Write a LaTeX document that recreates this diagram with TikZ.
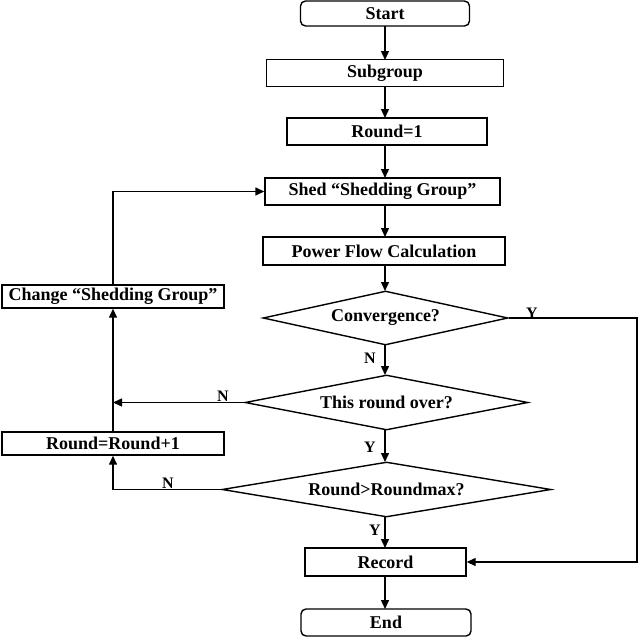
\documentclass[tikz,border=0pt]{standalone}
\usepackage{fontspec}
\setmainfont{Liberation Serif}
\usetikzlibrary{shapes.geometric,arrows.meta}
\begin{document}
\begin{tikzpicture}[x=1pt,y=-1pt,
  every node/.style={font=\fontsize{18}{21}\selectfont\bfseries},
  box/.style={draw,line width=1.4pt,inner sep=0pt,minimum height=#1},
  box/.default=27pt,
  term/.style={box,rounded corners=5pt},
  dec/.style={draw,diamond,line width=1.4pt,inner sep=0pt},
  arr/.style={line width=1.4pt,-{Triangle[length=9pt,width=8pt]}},
  ln/.style={line width=1.4pt},
  lbl/.style={font=\fontsize{16}{19}\selectfont\bfseries}]
\path[use as bounding box,fill=white] (0,0) rectangle (640,640);
\node[term,minimum width=169pt,minimum height=25pt] (start) at (385,13.5) {Start};
\node[box,minimum width=237pt] (sub) at (385,73) {Subgroup};
\node[box,minimum width=200pt] (r1) at (387,131.5) {Round=1};
\node[box,minimum width=235pt] (shed) at (382.5,191.5) {Shed “Shedding Group”};
\node[box=28pt,minimum width=242pt] (pf) at (384,251) {Power Flow Calculation};
\node[dec,shape aspect=4.5,minimum width=245pt,minimum height=54pt] (conv) at (385.5,318) {Convergence?};
\node[dec,shape aspect=5.1,minimum width=283pt,minimum height=55pt] (over) at (386.5,402.5) {This round over?};
\node[dec,shape aspect=6,minimum width=329pt,minimum height=55pt] (rmax) at (386.5,489.5) {Round>Roundmax?};
\node[box=28pt,minimum width=161pt] (rec) at (385.5,562) {Record};
\node[term,minimum width=170pt] (end) at (386,622.5) {End};
\node[box=23pt,minimum width=222pt] (chg) at (113,296.5) {Change “Shedding Group”};
\node[box=23pt,minimum width=222pt] (rinc) at (113,443.5) {Round=Round+1};
\coordinate (cr) at (637,318);
\coordinate (ol) at (113,402.5);
\coordinate (rl) at (113,489.5);
\draw[arr] (385,26) -- (385,60);
\draw[arr] (385,86) -- (385,118);
\draw[arr] (385,145) -- (385,178);
\draw[arr] (385,205) -- (385,237);
\draw[arr] (385,265) -- (385,291);
\draw[arr] (385,345) -- (385,375);
\draw[arr] (385,430) -- (385,462);
\draw[arr] (385,517) -- (385,548);
\draw[arr] (385,576) -- (385,609);
\draw[arr] (conv.east) -- (cr) |- (rec.east);
\draw[arr] (over.west) -- (ol);
\draw[arr] (rmax.west) -- (rl) -- (rinc.south);
\draw[arr] (rinc.north) -- (chg.south);
\draw[arr] (chg.north) |- (shed.west);
\node[lbl] (y1) at (532,313) {Y};
\node[lbl] (n1) at (370,358) {N};
\node[lbl] (n2) at (223,396) {N};
\node[lbl] (y2) at (370,447) {Y};
\node[lbl] (n3) at (168,483) {N};
\node[lbl] (y3) at (375,530) {Y};
\end{tikzpicture}
\end{document}
